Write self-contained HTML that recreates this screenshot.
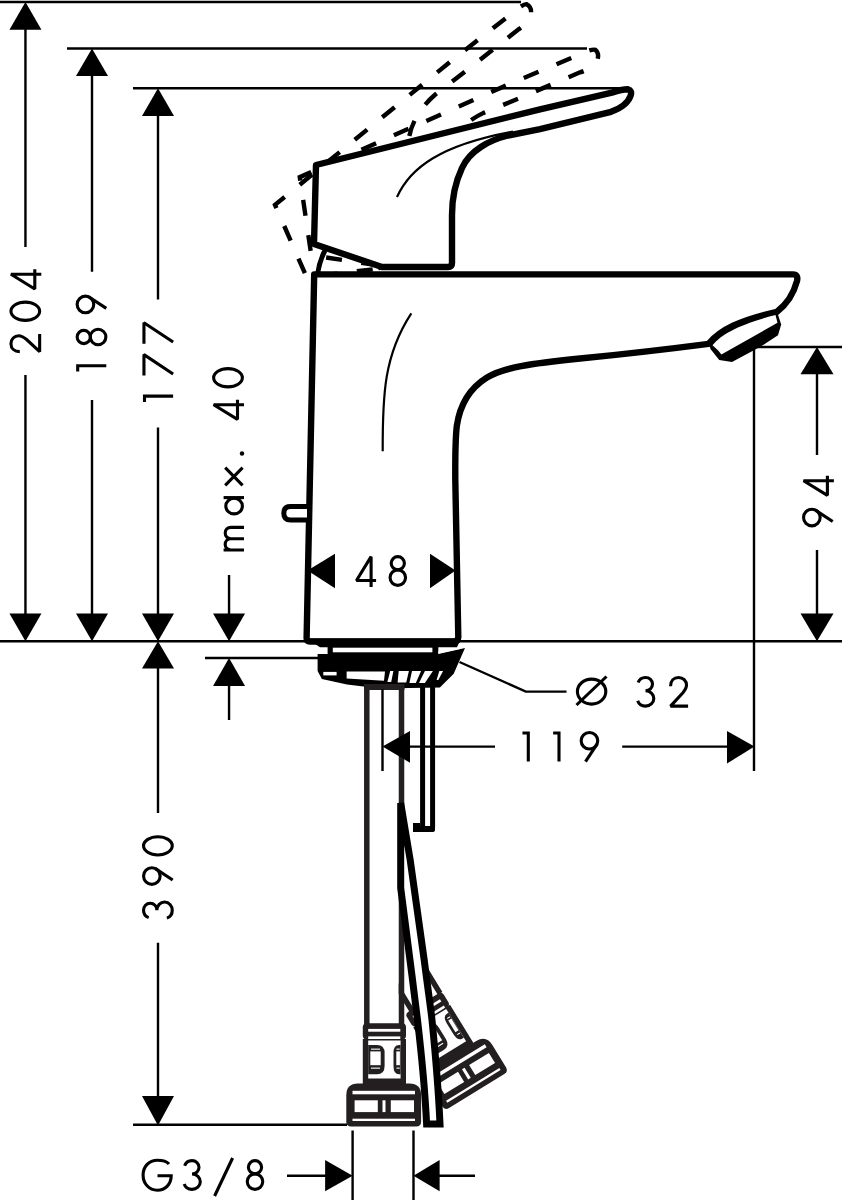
<!DOCTYPE html>
<html><head><meta charset="utf-8"><title>drawing</title>
<style>
html,body{margin:0;padding:0;background:#fff;}
svg{display:block;}
</style></head><body>
<svg width="842" height="1200" viewBox="0 0 842 1200">
<defs>
<g id="d0" fill="none" stroke="#000" stroke-width="3.1"><ellipse cx="10.75" cy="16" rx="9.1" ry="14.35"/></g>
<g id="d1" fill="none" stroke="#000" stroke-width="3.1"><path d="M1.65,2.2 H7.5 V30.8"/></g>
<g id="d2" fill="none" stroke="#000" stroke-width="3.1" stroke-miterlimit="1.5"><path d="M1.65,10.5 C1.65,5 5,1.65 9.6,1.65 C14.2,1.65 17.6,5 17.6,9.5 C17.6,12.5 16,14.5 14,17 L1.65,30.35 H19.2"/></g>
<g id="d3" fill="none" stroke="#000" stroke-width="3.1"><path d="M1.65,6.8 C2.8,3.5 5.6,1.65 9,1.65 C13,1.65 16,4.5 16,8.3 C16,12.1 13,15 9,15 C13.8,15 17.3,18.6 17.3,22.7 C17.3,27 13.6,30.35 9,30.35 C5.3,30.35 2.3,28.3 1.2,25"/></g>
<g id="d4" fill="none" stroke="#000" stroke-width="3.1" stroke-miterlimit="1.5"><path d="M16.3,32 V1.65 L1.65,25.5 H21.3"/></g>
<g id="d7" fill="none" stroke="#000" stroke-width="3.1" stroke-miterlimit="1.5"><path d="M0,1.65 H21 L1.65,30.8"/></g>
<g id="d8" fill="none" stroke="#000" stroke-width="3.1"><circle cx="8.5" cy="8.25" r="6.6"/><circle cx="8.5" cy="22.6" r="7.75"/></g>
<g id="d9" fill="none" stroke="#000" stroke-width="3.1"><circle cx="10.45" cy="9.95" r="8.3"/><path d="M17.9,13.5 L6.5,30.8"/></g>
<g id="gm" fill="none" stroke="#000" stroke-width="3.1"><path d="M1.65,11.6 V32 M1.65,19 C1.65,15.5 4,13.2 7.3,13.2 C10.6,13.2 13,15.5 13,19 V32 M13,19 C13,15.5 15.4,13.2 18.7,13.2 C22,13.2 24.3,15.5 24.3,19 V32"/></g>
<g id="ga" fill="none" stroke="#000" stroke-width="3.1"><ellipse cx="9.4" cy="22.1" rx="7.8" ry="8.3"/><path d="M17.9,11.6 V32"/></g>
<g id="gx" fill="none" stroke="#000" stroke-width="3.1"><path d="M1.65,13.2 L19.35,30.6 M19.35,13.2 L1.65,30.6"/></g>
<g id="gdot"><circle cx="2" cy="30" r="2.2" fill="#000"/></g>
</defs>

<!-- ============ HANDLE (dashed positions) ============ -->
<defs>
<g id="hdash" fill="none" stroke="#000" stroke-width="4.4" stroke-dasharray="16 19.5">
  <path stroke-dashoffset="31" d="M314,244 L316,165 L540,108.6 L612,92 Q626,88 629,90 Q633,95 628,102 Q622,108 610,109.5 L540,126 L508,133 C490,138 470,150 462,168 C455,183 452,200 452,215 L452,262 Q452,266.4 448,266.4 L382,266.4"/>
  <path stroke-dashoffset="20.5" d="M314,244 L382,266.4"/>
</g>
</defs>
<use href="#hdash" transform="rotate(-0.5 275 204) rotate(-24.6 387 279)"/>
<use href="#hdash" transform="translate(1.5,-1) rotate(-0.4 298 178) rotate(-9.42 387 279)"/>

<!-- ============ BODY ============ -->
<g stroke="#000" stroke-width="6.4" stroke-linejoin="round">
  <path fill="#fff" d="M314.2,274.4 L793,274.4 Q798.5,274.4 797,281 Q792,300 777,311.8 C740,320 720,330 708.6,343.8 C680,347.5 620,354.5 580,358.5 C530,363.5 504,367.5 487,377.5 C470,388 460,404 456.8,426 C455.2,440 455.2,465 455.3,480 L458.3,637 Q458,641.6 454,641.6 L310,641.6 Q306.6,641.6 306.6,638 Z"/>
  <path fill="#fff" d="M316,165 L540,109.3 L612,92.6 Q624,89 628,89.3 Q632.5,90.5 630.5,96 Q627,106 611,111.8 L540,129.2 L508,135.5 C490,140 470,150 462,168 C455,183 452,200 452,215 L452,263 Q452,267 448,267 L382,267 L314,244 Z"/>
</g>
<g stroke="#000" fill="none" stroke-width="2.2">
  <path d="M397,197 C410,168 440,145 513,131.5"/>
  <path d="M382.7,451.3 C382.5,395 384,355 411.3,313.3"/>
</g>
<g stroke="#000" fill="none" stroke-width="5">
  <path d="M317.5,275 Q319,262 325,250.5"/>
</g>
<!-- knob -->
<path d="M307,506.6 H290.5 Q283.8,506.6 283.8,513.3 Q283.8,520 290.5,520 H307" fill="#fff" stroke="#000" stroke-width="5"/>
<!-- aerator -->
<g>
  <path d="M708.6,343.8 C720,330 740,320 777,311.8 L781.2,324.6 L778,335.3 L759.9,347 L732,362 L719.2,359.9 L710.7,349.2 Z" fill="#000"/>
  <path d="M712.5,345.2 C722,333.5 741,323.8 775.5,315 L777.5,322.8 L721.4,354.4 L718.2,350.5 Z" fill="#fff"/>
</g>

<!-- ============ BASE / PLATE ============ -->
<g fill="#000">
  <path d="M306.7,638.2 H461 L457,647.2 H320 Z"/>
  <rect x="327.6" y="646" width="110.7" height="8.5"/>
  <path d="M317.6,653.9 H438.3 L465,648 L453.7,673.7 L439.9,687.6 L380,688.5 L347,684.5 L321.9,679 L317.6,671 Z"/>
</g>
<g fill="#fff">
  <rect x="332.8" y="647.7" width="99.6" height="4.6"/>
  <path d="M438.3,651.5 L463,648.3 L438.3,653.5 Z"/>
  <rect x="323.3" y="671.9" width="13.3" height="3.5"/>
  <path d="M346.6,671.4 H385 L384,680.8 L346.6,678.5 Z"/>
  <path d="M390.2,671 H393.4 L391.2,682 H387.4 Z"/>
  <path d="M398.7,671 H408.9 L406.2,682.5 H397.6 Z"/>
  <path d="M412,671 H421.1 L415.8,683 H409.4 Z"/>
  <path d="M424.9,671 H432.9 L424.9,683 H419 Z"/>
  <path d="M439.3,671 H443.1 L438.3,680 H436.6 Z"/>
</g>

<!-- ============ FITTINGS ============ -->
<defs>
<g id="fitting">
  <rect x="362.8" y="1023.2" width="43.2" height="16.4" rx="4" fill="#231f20"/>
  <rect x="368.2" y="1028.9" width="32.1" height="2.8" fill="#fff"/>
  <rect x="368.2" y="1036.4" width="32.1" height="3" fill="#fff"/>
  <rect x="362.8" y="1039" width="43.2" height="46" fill="#231f20"/>
  <rect x="368.2" y="1040.5" width="32.4" height="38" fill="#fff"/>
  <path d="M368.2,1045 H377 Q384.6,1045 384.6,1053 V1066 Q384.6,1074.2 377,1074.2 H368.2 Z" fill="#231f20"/>
  <path d="M400.6,1045 H399 Q393.5,1045 393.5,1053 V1066 Q393.5,1074.2 399,1074.2 H400.6 Z" fill="#231f20"/>
  <rect x="370.3" y="1051.4" width="10.4" height="13.8" fill="#fff"/><rect x="371" y="1048.6" width="9" height="1.1" fill="#fff"/><rect x="371" y="1067.6" width="9" height="1.1" fill="#fff"/>
  <rect x="396.3" y="1051.4" width="3.6" height="13.8" fill="#fff"/><rect x="396.5" y="1048.6" width="3.2" height="1.1" fill="#fff"/><rect x="396.5" y="1067.6" width="3.2" height="1.1" fill="#fff"/>
  <path d="M358,1083.6 H409.4 Q421.1,1083.6 421.1,1095.3 V1121.4 Q421.1,1126.4 416.1,1126.4 H351.3 Q346.3,1126.4 346.3,1121.4 V1095.3 Q346.3,1083.6 358,1083.6 Z" fill="#231f20"/>
  <rect x="352.5" y="1090.8" width="62.5" height="3.5" fill="#fff"/>
  <rect x="354.6" y="1100.3" width="23.2" height="11.8" fill="#fff"/>
  <rect x="390.8" y="1100.3" width="23.2" height="11.8" fill="#fff"/>
  <rect x="382.5" y="1100.3" width="3" height="11.8" fill="#fff"/>
  <rect x="352.5" y="1118.7" width="62.5" height="2.3" fill="#fff"/>
</g>
</defs>
<g transform="matrix(0.8526,-0.5225,0.5225,0.8526,-439,331.1)">
  <path d="M370.5,966 V1024 M403.5,960 V1024" fill="none" stroke="#231f20" stroke-width="5.5"/>
  <use href="#fitting"/>
</g>
<rect x="369.6" y="940" width="29.1" height="85" fill="#fff"/>
<!-- ============ PIPES ============ -->
<g fill="none" stroke="#231f20" stroke-width="5.5">
  <path d="M366.8,686 V1025"/>
  <path d="M401.5,686 V1025"/>
</g>
<rect x="364" y="684" width="40.5" height="6" fill="#231f20"/>
<g fill="none" stroke="#000" stroke-width="5">
  <path d="M422.6,686 V827.5 M432.6,686 V827.5"/>
</g>
<path d="M420,826 H435 V830 Q435,832 432,832 H413 V823 H420 Z" fill="#000"/>

<use href="#fitting"/>

<!-- hose -->
<path d="M400.7,803 L400.7,888 C404,912 412,975 417.5,1020 C421,1050 425,1090 426.6,1124 H440 C438.5,1090 435,1050 432,1020 C431,1010 428,990 424.2,960 L410.2,860 Z" fill="#fff" stroke="#000" stroke-width="7" stroke-linejoin="miter"/>

<!-- ============ DIMENSION LINES ============ -->
<g stroke="#000" stroke-width="2.4" fill="none">
  <path d="M0,2 H521"/>
  <path d="M67,48.5 H587"/>
  <path d="M133,88.3 H624"/>
  <path d="M0,641.3 H842"/>
  <path d="M205,658 H318"/>
  <path d="M757,347 H842"/>
  <path d="M754,347 V771"/>
  <path d="M133,1124.8 H347"/>
  <!-- 204 -->
  <path d="M25.45,10 V247 M25.45,375 V630"/>
  <!-- 189 -->
  <path d="M92,55 V271.7 M92,399.9 V630"/>
  <!-- 177 -->
  <path d="M158,95 V299.5 M158,427.6 V630"/>
  <!-- max 40 -->
  <path d="M229.05,575 V630 M229.05,670 V720"/>
  <!-- 390 -->
  <path d="M158,650 V813 M158,942.8 V1115"/>
  <!-- 94 -->
  <path d="M817,355 V455 M817,550 V630"/>
  <!-- 119 -->
  <path d="M382.5,689 V771 M395,746.6 H495 M622.2,746.6 H745"/>
  <!-- G3/8 -->
  <path d="M352.6,1130.5 V1200 M413.5,1130.5 V1200 M287,1175.8 H340 M425,1175.8 H475"/>
  <!-- leader -->
  <path d="M459.5,662 L525.8,691.6 H566.5"/>
</g>
<g fill="#000">
  <!-- arrows -->
  <path d="M25.45,2 L41.45,29.7 L9.45,29.7 Z"/>
  <path d="M25.45,641.3 L41.45,613.5 L9.45,613.5 Z"/>
  <path d="M92,48.5 L108,76 L76,76 Z"/>
  <path d="M92,641.3 L108,613.5 L76,613.5 Z"/>
  <path d="M158,88.3 L174,116 L142,116 Z"/>
  <path d="M158,641.3 L174,613.5 L142,613.5 Z"/>
  <path d="M229.05,641.3 L245.05,613.5 L213.05,613.5 Z"/>
  <path d="M229.05,658 L245.05,686 L213.05,686 Z"/>
  <path d="M158,641.3 L174,668.6 L142,668.6 Z"/>
  <path d="M158,1125.5 L174,1096 L142,1096 Z"/>
  <path d="M817,347 L833.5,374.3 L800.5,374.3 Z"/>
  <path d="M817,641.3 L833.5,613.5 L800.5,613.5 Z"/>
  <path d="M307.5,570.5 L335,553.8 L335,588.3 Z"/>
  <path d="M455.5,570.5 L430,553.8 L430,588.3 Z"/>
  <path d="M382.5,746.6 L410,731 L410,762.7 Z"/>
  <path d="M754.5,746.6 L727,731 L727,763.5 Z"/>
  <path d="M352.6,1175.8 L325.1,1160 L325.1,1191.3 Z"/>
  <path d="M413.5,1175.8 L439.6,1160 L439.6,1191.3 Z"/>
</g>

<!-- ============ TEXT ============ -->
<g>
  <!-- 204 -->
  <use href="#d2" transform="translate(9.3,353.3) rotate(-90)"/>
  <use href="#d0" transform="translate(9.3,322) rotate(-90)"/>
  <use href="#d4" transform="translate(9.3,290.6) rotate(-90)"/>
  <!-- 189 -->
  <use href="#d1" transform="translate(75.5,373.2) rotate(-90)"/>
  <use href="#d8" transform="translate(75.5,345.5) rotate(-90)"/>
  <use href="#d9" transform="translate(75.5,314.9) rotate(-90)"/>
  <!-- 177 -->
  <use href="#d1" transform="translate(142.3,403.6) rotate(-90)"/>
  <use href="#d7" transform="translate(142.3,375.6) rotate(-90)"/>
  <use href="#d7" transform="translate(142.3,343.7) rotate(-90)"/>
  <!-- max. 40 -->
  <use href="#gm" transform="translate(212,551.7) rotate(-90)"/>
  <use href="#ga" transform="translate(212,515.5) rotate(-90)"/>
  <use href="#gx" transform="translate(212,487) rotate(-90)"/>
  <use href="#gdot" transform="translate(212,455.5) rotate(-90)"/>
  <use href="#d4" transform="translate(212,421) rotate(-90)"/>
  <use href="#d0" transform="translate(212,388.5) rotate(-90)"/>
  <!-- 94 -->
  <use href="#d9" transform="translate(801.9,528) rotate(-90)"/>
  <use href="#d4" transform="translate(801.9,497) rotate(-90)"/>
  <!-- 390 -->
  <use href="#d3" transform="translate(141.9,919.3) rotate(-90)"/>
  <use href="#d9" transform="translate(141.9,886.5) rotate(-90)"/>
  <use href="#d0" transform="translate(141.9,856.6) rotate(-90)"/>
  <!-- 48 -->
  <use href="#d4" transform="translate(354.8,555)"/>
  <use href="#d8" transform="translate(389.3,555)"/>
  <!-- 119 -->
  <use href="#d1" transform="translate(520.8,730.8)"/>
  <use href="#d1" transform="translate(551.5,730.8)"/>
  <use href="#d9" transform="translate(579,730.8)"/>
  <!-- O 32 -->
  <g fill="none" stroke="#000" stroke-width="3.1">
    <ellipse cx="591.6" cy="691.6" rx="14.2" ry="12.5"/>
    <path d="M576.5,705 L606.5,676.5"/>
  </g>
  <use href="#d3" transform="translate(636.5,675.8)"/>
  <use href="#d2" transform="translate(668.9,675.8)"/>
  <!-- G3/8 -->
  <g fill="none" stroke="#000" stroke-width="3.1">
    <path d="M169,1164 C166,1160.5 162,1160.2 157.5,1160.2 C148.5,1160.2 143.1,1167 143.1,1175.2 C143.1,1183.5 149,1190.2 157.3,1190.2 C165.5,1190.2 171.2,1184 171.2,1175.8 H157.5"/>
    <path d="M214.6,1196 L232.6,1158"/>
  </g>
  <use href="#d3" transform="translate(183,1159)"/>
  <use href="#d8" transform="translate(246.5,1159)"/>
</g>

</svg>
</body></html>
